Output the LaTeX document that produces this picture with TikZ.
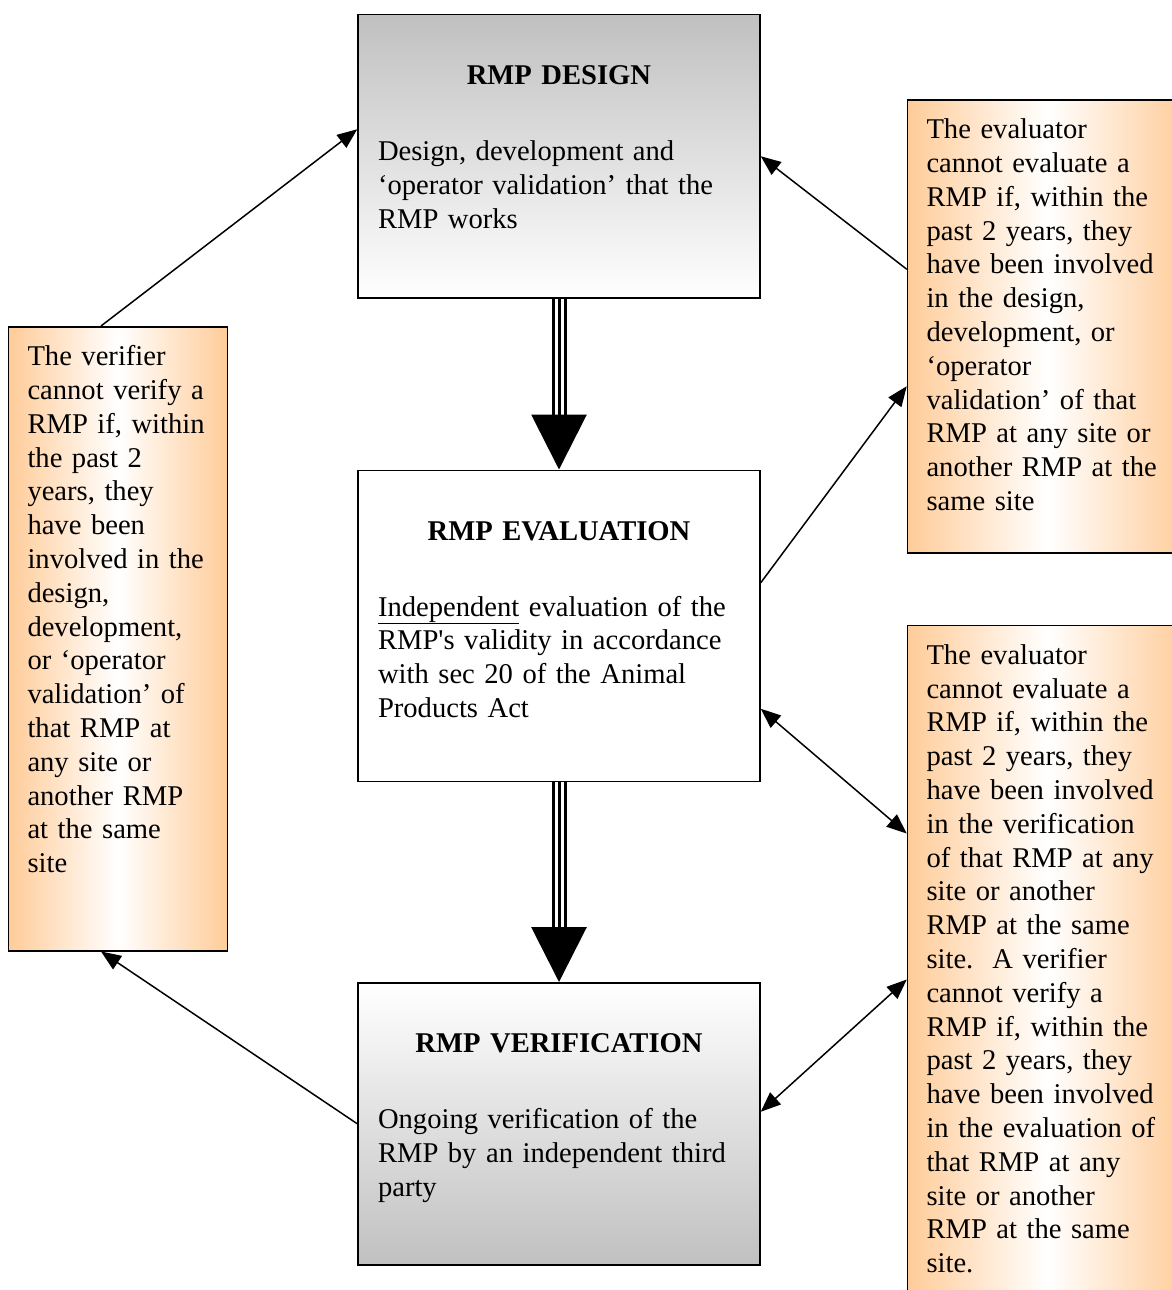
\documentclass[tikz,border=0pt]{standalone}
\usepackage{fontspec}
\setmainfont{Liberation Serif}
\usepackage{tikz}
\usetikzlibrary{positioning, arrows.meta, shadings}

\definecolor{peach}{HTML}{FFCC99}
\definecolor{greybox}{HTML}{C0C0C0}
\hyphenpenalty=10000

\tikzset{
	stage/.style={draw, line width=1.5pt, text width=362pt, inner xsep=20pt, inner ysep=0pt, text height=70pt, align=left},
	rule/.style={draw, line width=1.5pt, inner xsep=19pt, inner ysep=0pt, text height=39pt, align=left, left color=peach, right color=peach, middle color=white},
	link/.style={line width=1.5pt, >={Triangle[length=20pt,width=16pt]}},
	bigarrow/.style={line width=3pt, -{Triangle[length=55pt,width=55pt]}, preaction={draw, -, line width=3pt, double=white, double distance=9pt, shorten >=50pt}}
}

\begin{document}
\begin{tikzpicture}[x=1pt, y=-1pt, font=\fontsize{28.6}{33.8}\selectfont]
		\useasboundingbox (0,0) rectangle (1171,1290);
		
		%stages
		\node[stage, anchor=north, top color=greybox, bottom color=white, text depth=213pt] (design) at (559,14) {{\centering\textbf{RMP DESIGN}\par}\vspace{42pt}Design, development and\\ ‘operator validation’ that the\\ RMP works};
		\node[stage, fill=white, text depth=241pt, below = 171pt of design] (eval) {{\centering\textbf{RMP EVALUATION}\par}\vspace{42pt}\underline{Independent} evaluation of the\\ RMP\textquotesingle s validity in accordance\\ with sec 20 of the Animal\\ Products Act};
		\node[stage, top color=white, bottom color=greybox, text depth=212pt, below = 200pt of eval] (verif) {{\centering\textbf{RMP VERIFICATION}\par}\vspace{42pt}Ongoing verification of the\\ RMP by an independent third\\ party};
		
		%rules
		\node[rule, text width=181pt, text depth=585pt, below left = 312pt and 129pt of design.north west] (vrule) {The verifier\\ cannot verify a\\ RMP if, within\\ the past 2\\ years, they\\ have been\\ involved in the\\ design,\\ development,\\ or ‘operator\\ validation’ of\\ that RMP at\\ any site or\\ another RMP\\ at the same\\ site};
		\node[rule, text width=242pt, text depth=414pt, below right = 85pt and 146pt of design.north east] (erule1) {The evaluator\\ cannot evaluate a\\ RMP if, within the\\ past 2 years, they\\ have been involved\\ in the design,\\ development, or\\ ‘operator\\ validation’ of that\\ RMP at any site or\\ another RMP at the\\ same site};
		\node[rule, text width=242pt, text depth=700pt, below right = 155pt and 146pt of eval.north east] (erule2) {The evaluator\\ cannot evaluate a\\ RMP if, within the\\ past 2 years, they\\ have been involved\\ in the verification\\ of that RMP at any\\ site or another\\ RMP at the same\\ site.\ \ A verifier\\ cannot verify a\\ RMP if, within the\\ past 2 years, they\\ have been involved\\ in the evaluation of\\ that RMP at any\\ site or another\\ RMP at the same\\ site.};
		
		%main flow
		\draw[bigarrow] (design.south) -- (eval.north);
		\draw[bigarrow] (eval.south) -- (verif.north);
		
		%links
		\draw[link, ->] ([xshift=-17pt]vrule.north) -- ([yshift=27pt]design.west);
		\draw[link, ->] ([yshift=57pt]erule1.west) -- (design.east);
		\draw[link, ->] ([yshift=43pt]eval.east) -- ([yshift=-60pt]erule1.west);
		\draw[link, <->] ([yshift=-83pt]eval.east) -- ([yshift=-209pt]erule2.north west);
		\draw[link, <->] ([yshift=12pt]verif.east) -- ([yshift=-355pt]erule2.north west);
		\draw[link, ->] (verif.west) -- ([xshift=-17pt]vrule.south);
		
	\end{tikzpicture}
\end{document}
